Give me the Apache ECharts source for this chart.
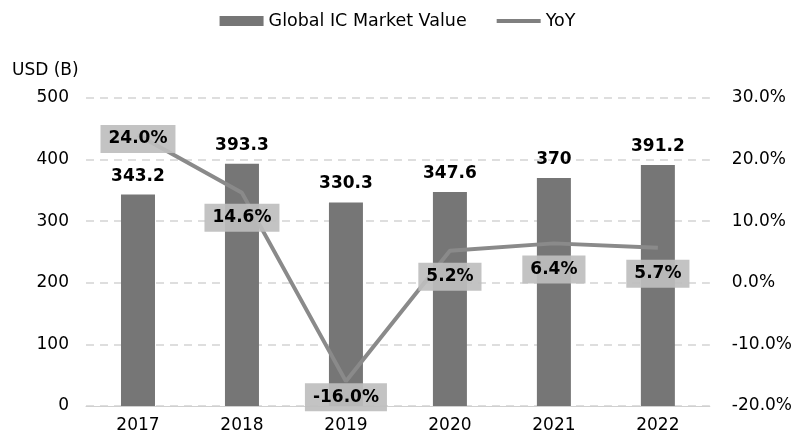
<!DOCTYPE html>
<html>
<head>
<meta charset="utf-8">
<script src="https://cdn.jsdelivr.net/npm/echarts@6/dist/echarts.min.js"></script>
<style>
  html, body { margin: 0; padding: 0; background: #fff; }
  #chart { width: 795px; height: 436px; }
</style>
</head>
<body>
<div id="chart"></div>
<script>
const years = ['2017', '2018', '2019', '2020', '2021', '2022'];
const marketValue = [343.2, 393.3, 330.3, 347.6, 370, 391.2];
const yoy = [24.0, 14.6, -16.0, 5.2, 6.4, 5.7];
// label offset below the point (px); first point label sits on the point
const yoyLabelOffset = [4, 25, 16, 26, 26, 26];

const chart = echarts.init(document.getElementById('chart'));
const font = 'DejaVu Sans, sans-serif';

chart.setOption({
  animation: false,
  textStyle: { fontFamily: font },
  legend: {
    top: 7,
    left: 'center',
    itemGap: 28,
    itemWidth: 44,
    itemHeight: 10,
    textStyle: { fontSize: 17.5, color: '#000', fontFamily: font },
    data: [
      { name: 'Global IC Market Value', icon: 'rect' },
      { name: 'YoY', itemStyle: { opacity: 0 }, lineStyle: { width: 4, color: '#808080' } }
    ]
  },
  grid: { left: 86, right: 85, top: 98, bottom: 30 },
  xAxis: {
    type: 'category',
    data: years,
    axisLine: { lineStyle: { color: '#d0d0d0', width: 1 } },
    axisTick: { show: false },
    axisLabel: { fontSize: 17, color: '#000', margin: 11 }
  },
  yAxis: [
    {
      type: 'value',
      min: 0, max: 500, interval: 100,
      name: 'USD (B)',
      nameLocation: 'end',
      nameGap: 19,
      nameTextStyle: { fontSize: 17, color: '#000', align: 'left', padding: [0, 0, 0, -74] },
      axisLine: { show: false },
      axisTick: { show: false },
      axisLabel: { fontSize: 17, color: '#000', margin: 17 },
      splitLine: { lineStyle: { color: '#d4d4d4', type: [8, 6], width: 1.5 } }
    },
    {
      type: 'value',
      min: -20, max: 30, interval: 10,
      position: 'right',
      axisLine: { show: false },
      axisTick: { show: false },
      splitLine: { show: false },
      axisLabel: {
        fontSize: 17, color: '#000', margin: 22,
        formatter: v => v.toFixed(1) + '%'
      }
    }
  ],
  series: [
    {
      name: 'Global IC Market Value',
      type: 'bar',
      data: marketValue,
      barWidth: 34,
      itemStyle: { color: '#767676' },
      label: {
        show: true,
        position: 'top',
        distance: 10,
        fontSize: 17,
        fontWeight: 'bold',
        color: '#000'
      }
    },
    {
      name: 'YoY',
      type: 'line',
      yAxisIndex: 1,
      data: yoy.map((v, i) => ({
        value: v,
        label: { offset: [0, yoyLabelOffset[i]] }
      })),
      symbol: 'circle',
      symbolSize: 0,
      lineStyle: { color: '#8a8a8a', width: 4 },
      itemStyle: { color: '#8a8a8a' },
      label: {
        show: true,
        position: 'inside',
        formatter: p => p.value.toFixed(1) + '%',
        fontSize: 17,
        fontWeight: 'bold',
        color: '#000',
        backgroundColor: 'rgba(190,190,190,0.92)',
        padding: [6, 8, 5, 8]
      },
      z: 3
    }
  ]
});
</script>
</body>
</html>
